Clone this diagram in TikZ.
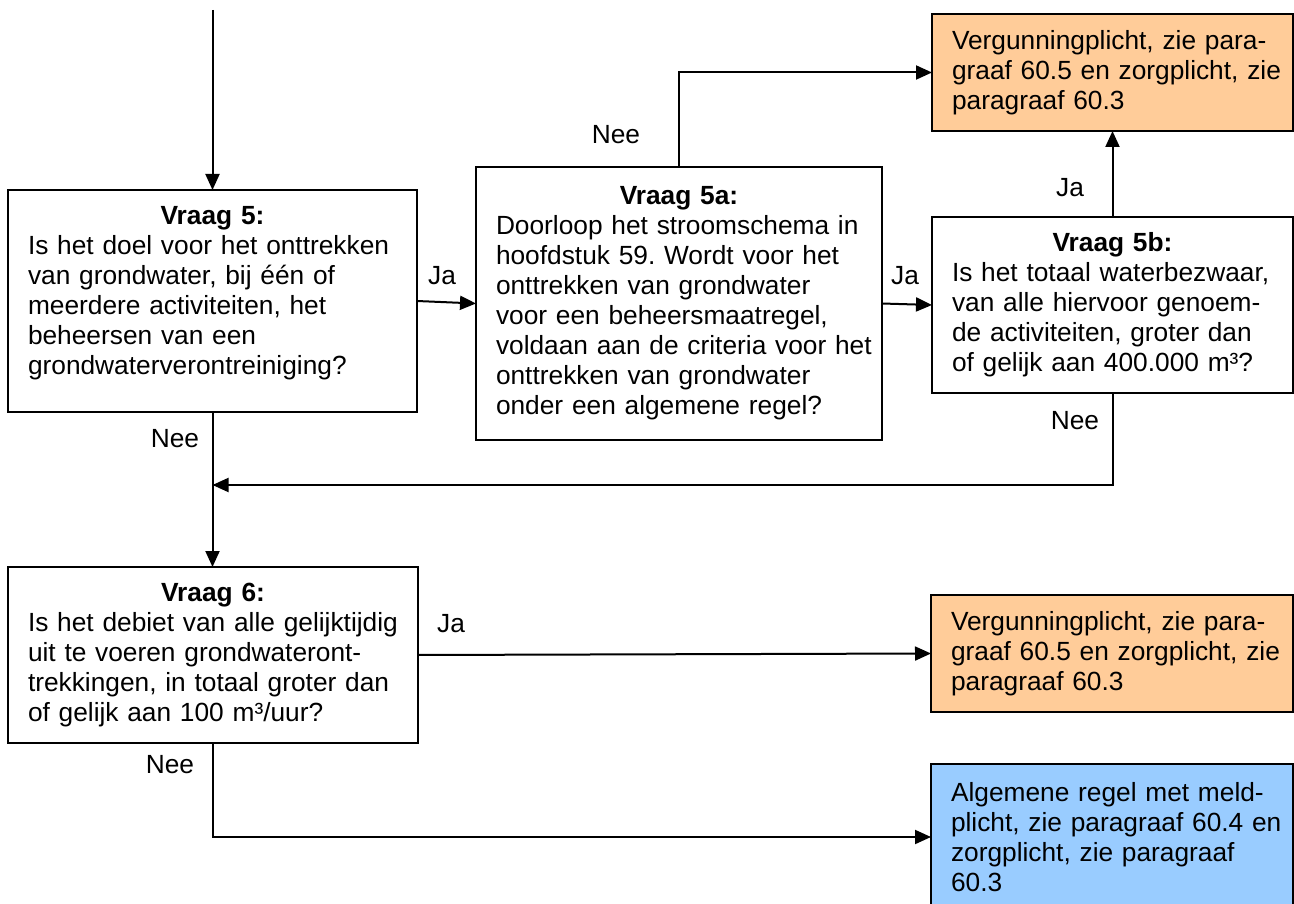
\documentclass[tikz,border=0pt]{standalone}
\usepackage{fontspec}
\setmainfont{Liberation Sans}
\usetikzlibrary{arrows.meta}
\definecolor{orangebox}{HTML}{FFCC99}
\definecolor{bluebox}{HTML}{99CCFF}
\newcommand\qtitle[1]{\makebox[\linewidth]{\bfseries #1}}
\frenchspacing
\begin{document}
\begin{tikzpicture}[x=1pt,y=-1pt,
  box/.style={draw, line width=2.2pt, anchor=north west, align=left,
    inner xsep=20pt, inner ysep=0pt, outer sep=0pt,
    font=\fontsize{26.3}{30}\selectfont\frenchspacing},
  lbl/.style={font=\fontsize{26.3}{30}\selectfont, inner sep=0pt},
  conn/.style={line width=2pt, -{Triangle[length=16pt,width=14pt]}},
  plain/.style={line width=2pt}]
\useasboundingbox (0,0) rectangle (1294,904);
\clip (0,0) rectangle (1294,904);

% boxes
\node[box, fill=white, text width=369pt, minimum height=222pt] (q5) at (8,190)
  {\qtitle{Vraag 5:}\\
   \mbox{Is het doel voor het onttrekken}\\
   \mbox{van grondwater, bij één of}\\
   \mbox{meerdere activiteiten, het}\\
   \mbox{beheersen van een}\\
   \mbox{grondwaterverontreiniging?}\rule[-21.5pt]{0pt}{0pt}};

\node[box, fill=white, text width=366pt, minimum height=273pt] (q5a) at (476,167)
  {\qtitle{Vraag 5a:}\\
   \mbox{Doorloop het stroomschema in}\\
   \mbox{hoofdstuk 59. Wordt voor het}\\
   \mbox{onttrekken van grondwater}\\
   \mbox{voor een beheersmaatregel,}\\
   \mbox{voldaan aan de criteria voor het}\\
   \mbox{onttrekken van grondwater}\\
   \mbox{onder een algemene regel?}};

\node[box, fill=white, text width=321pt, minimum height=176pt] (q5b) at (932,217)
  {\qtitle{Vraag 5b:}\\
   \mbox{Is het totaal waterbezwaar,}\\
   \mbox{van alle hiervoor genoem-}\\
   \mbox{de activiteiten, groter dan}\\
   \mbox{of gelijk aan 400.000 m³?}};

\node[box, fill=orangebox, text width=321pt, minimum height=117pt] (o1) at (932,14)
  {\mbox{Vergunningplicht, zie para-}\\
   \mbox{graaf 60.5 en zorgplicht, zie}\\
   \mbox{paragraaf 60.3}};

\node[box, fill=white, text width=370pt, minimum height=176pt] (q6) at (8,567)
  {\qtitle{Vraag 6:}\\
   \mbox{Is het debiet van alle gelijktijdig}\\
   \mbox{uit te voeren grondwateront-}\\
   \mbox{trekkingen, in totaal groter dan}\\
   \mbox{of gelijk aan 100 m³/uur?}};

\node[box, fill=orangebox, text width=322pt, minimum height=117pt] (o2) at (931,595)
  {\mbox{Vergunningplicht, zie para-}\\
   \mbox{graaf 60.5 en zorgplicht, zie}\\
   \mbox{paragraaf 60.3}};

\node[box, fill=bluebox, text width=322pt, minimum height=146pt] (bl) at (931,764)
  {\mbox{Algemene regel met meld-}\\
   \mbox{plicht, zie paragraaf 60.4 en}\\
   \mbox{zorgplicht, zie paragraaf}\\
   \mbox{60.3}};

% helper coordinates
\coordinate (start) at (212.5,10);
\coordinate (mg) at (212.5,485);

% connectors
\draw[conn] (start) -- (q5.north);
\draw[conn] (q5.east) -- (q5a.west);
\draw[conn] (q5a.east) -- (q5b.west);
\draw[conn] (q5a.north) |- (o1.west);
\draw[conn] (q5b.north) -- (o1.south);
\draw[conn] (q5b.south) |- (mg);
\draw[conn] (q5.south) -- (q5.south |- q6.north);
\draw[conn] (q6.east) -- (o2.west);
\draw[conn] (q6.south) |- (bl.west);

% labels
\node[lbl] (l1) at (442,276) {Ja};
\node[lbl] (l2) at (175,439) {Nee};
\node[lbl] (l3) at (905,276) {Ja};
\node[lbl] (l4) at (616,135) {Nee};
\node[lbl] (l5) at (1070,188) {Ja};
\node[lbl] (l6) at (1075,421) {Nee};
\node[lbl] (l7) at (451,624) {Ja};
\node[lbl] (l8) at (170,765) {Nee};
\end{tikzpicture}
\end{document}
